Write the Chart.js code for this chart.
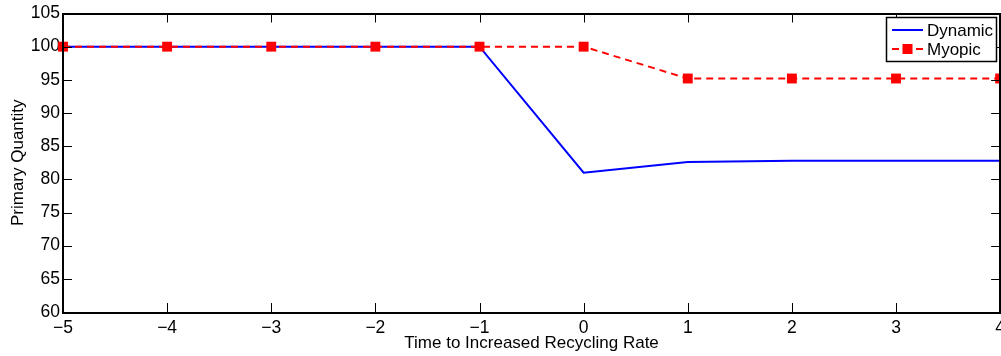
<!DOCTYPE html>
<html>
<head>
<meta charset="utf-8">
<script src="https://cdn.jsdelivr.net/npm/chart.js@4"></script>
<style>
  html, body { margin: 0; padding: 0; background: #fff; overflow: hidden; }
  #wrap { width: 1001px; height: 356px; overflow: hidden; }
</style>
</head>
<body>
<div id="wrap"><canvas id="myChart" width="1011" height="356"></canvas></div>
<script>
// years relative to the recycling rate change
const timeSteps = [-5, -4, -3, -2, -1, 0, 1, 2, 3, 4];
const dynamicQty = [100, 100, 100, 100, 100, 81.0, 82.6, 82.8, 82.8, 82.8];
const myopicQty = [100, 100, 100, 100, 100, 100, 95.2, 95.2, 95.2, 95.2];
const yTicks = [60, 65, 70, 75, 80, 85, 90, 95, 100, 105];
const seriesNames = ['Dynamic', 'Myopic'];

const FONT = 'Liberation Sans, Arial, Helvetica, sans-serif';

function toPoints(vals) {
    return timeSteps.map((t, i) => ({ x: t, y: vals[i] }));
}

// box frame, inward ticks on all four sides and the legend
const frame = {
    id: 'frame',
    afterDraw(chart) {
        const ctx = chart.ctx;
        const a = chart.chartArea;
        const xs = chart.scales.x, ys = chart.scales.y;
        const len = 9;
        ctx.save();
        ctx.strokeStyle = '#000';
        ctx.lineWidth = 1;
        ctx.beginPath();
        timeSteps.forEach(t => {
            const px = Math.round(xs.getPixelForValue(t)) + 0.5;
            ctx.moveTo(px, a.bottom); ctx.lineTo(px, a.bottom - len);
            ctx.moveTo(px, a.top); ctx.lineTo(px, a.top + len);
        });
        yTicks.forEach(v => {
            const py = Math.round(ys.getPixelForValue(v)) + 0.5;
            ctx.moveTo(a.left, py); ctx.lineTo(a.left + len, py);
            ctx.moveTo(a.right, py); ctx.lineTo(a.right - len, py);
        });
        ctx.stroke();
        ctx.lineWidth = 2;
        ctx.strokeRect(Math.round(a.left), Math.round(a.top), Math.round(a.right - a.left), Math.round(a.bottom - a.top));

        // legend
        const lx = 886, ly = 17, lw = 110, lh = 44;
        ctx.fillStyle = '#fff';
        ctx.fillRect(lx, ly, lw, lh);
        ctx.lineWidth = 1.5;
        ctx.strokeRect(lx + 0.5, ly + 0.5, lw, lh);
        ctx.font = '17px ' + FONT;
        ctx.textBaseline = 'middle';
        ctx.fillStyle = '#000';
        const rows = [30, 49];
        chart.data.datasets.forEach((ds, i) => {
            const y = rows[i];
            ctx.strokeStyle = ds.borderColor;
            ctx.lineWidth = 2;
            ctx.setLineDash(ds.borderDash || []);
            ctx.beginPath();
            ctx.moveTo(892, y); ctx.lineTo(923, y);
            ctx.stroke();
            ctx.setLineDash([]);
            if (ds.pointRadius > 0) {
                ctx.fillStyle = ds.pointBackgroundColor;
                ctx.fillRect(907.5 - 5, y - 5, 10, 10);
            }
            ctx.fillStyle = '#000';
            ctx.fillText(ds.label, 927, y + 1);
        });
        ctx.restore();
    }
};

const ctx = document.getElementById('myChart').getContext('2d');
const myChart = new Chart(ctx, {
    type: 'line',
    data: {
        datasets: [{
            label: seriesNames[0],
            data: toPoints(dynamicQty),
            borderColor: '#0000ff',
            borderWidth: 2,
            pointRadius: 0,
            tension: 0,
            order: 2
        }, {
            label: seriesNames[1],
            data: toPoints(myopicQty),
            borderColor: '#ff0000',
            borderWidth: 2,
            borderDash: [7, 5],
            pointStyle: 'rect',
            pointRadius: 7,
            pointBorderWidth: 0,
            pointBackgroundColor: '#ff0000',
            pointBorderColor: '#ff0000',
            tension: 0,
            order: 1
        }]
    },
    options: {
        responsive: false,
        animation: false,
        clip: false,
        layout: { padding: { top: 12, right: 0, left: 0, bottom: 0 } },
        plugins: {
            legend: { display: false },
            tooltip: { enabled: false }
        },
        scales: {
            x: {
                type: 'linear',
                min: -5,
                max: 4,
                grid: { display: false, drawTicks: false },
                border: { display: false },
                afterFit: s => { s.height = 44; },
                afterBuildTicks: s => { s.ticks = timeSteps.map(v => ({ value: v })); },
                ticks: {
                    color: '#000',
                    padding: 6,
                    maxRotation: 0,
                    autoSkip: false,
                    font: { family: FONT, size: 17.5 },
                    callback: v => String(v).replace('-', '\u2212')
                },
                title: {
                    display: true,
                    text: 'Time to Increased Recycling Rate',
                    color: '#000',
                    font: { family: FONT, size: 17 },
                    padding: { top: 0, bottom: 2 }
                }
            },
            y: {
                min: 60,
                max: 105,
                grid: { display: false, drawTicks: false },
                border: { display: false },
                afterFit: s => { s.width = 63; },
                afterBuildTicks: s => { s.ticks = yTicks.map(v => ({ value: v })); },
                ticks: {
                    color: '#000',
                    padding: 3,
                    font: { family: FONT, size: 17.5 }
                },
                title: {
                    display: true,
                    text: 'Primary Quantity',
                    color: '#000',
                    font: { family: FONT, size: 17 },
                    padding: { top: 8, bottom: 0 }
                }
            }
        }
    },
    plugins: [frame]
});
</script>
</body>
</html>
